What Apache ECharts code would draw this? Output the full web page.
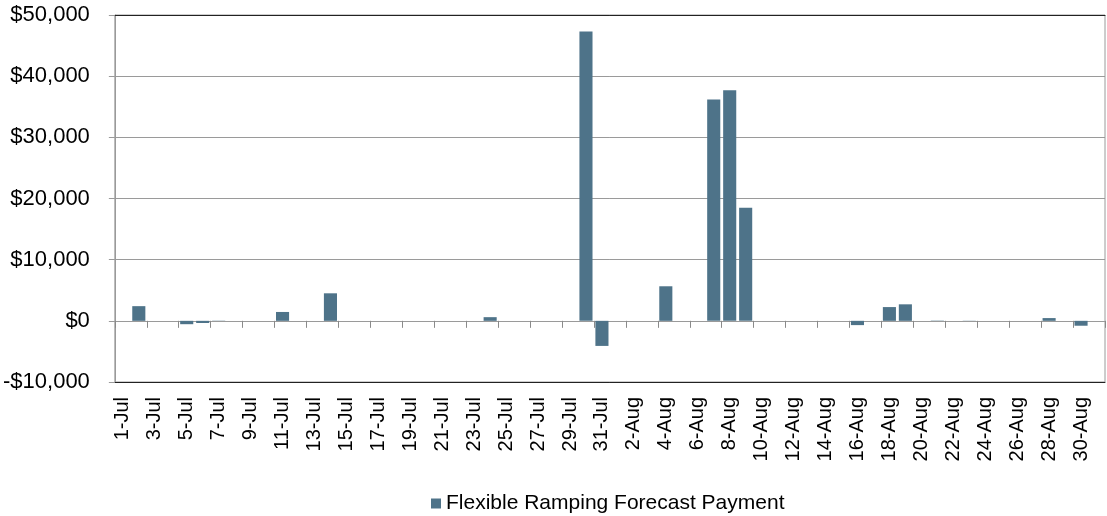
<!DOCTYPE html>
<html>
<head>
<meta charset="utf-8">
<script src="https://cdn.jsdelivr.net/npm/echarts@6/dist/echarts.min.js"></script>
<style>html,body{margin:0;padding:0;background:#fff}#c{width:1107px;height:516px}</style>
</head>
<body>
<div id="c"></div>
<script>
const categories = ["1-Jul","2-Jul","3-Jul","4-Jul","5-Jul","6-Jul","7-Jul","8-Jul","9-Jul","10-Jul","11-Jul","12-Jul","13-Jul","14-Jul","15-Jul","16-Jul","17-Jul","18-Jul","19-Jul","20-Jul","21-Jul","22-Jul","23-Jul","24-Jul","25-Jul","26-Jul","27-Jul","28-Jul","29-Jul","30-Jul","31-Jul","1-Aug","2-Aug","3-Aug","4-Aug","5-Aug","6-Aug","7-Aug","8-Aug","9-Aug","10-Aug","11-Aug","12-Aug","13-Aug","14-Aug","15-Aug","16-Aug","17-Aug","18-Aug","19-Aug","20-Aug","21-Aug","22-Aug","23-Aug","24-Aug","25-Aug","26-Aug","27-Aug","28-Aug","29-Aug","30-Aug","31-Aug"];
const seriesName = "Flexible Ramping Forecast Payment";
const payments = [0,2400,0,0,-550,-350,40,0,0,0,1450,0,0,4500,0,0,0,0,0,0,0,0,0,600,0,0,0,0,0,47300,-4100,0,0,0,5650,0,0,36200,37700,18500,0,0,0,0,0,0,-700,0,2250,2700,0,50,0,30,0,0,0,0,450,0,-800,0];
const yMin = -10000, yMax = 50000, yStep = 10000;

const chart = echarts.init(document.getElementById('c'));
const font = 'Liberation Sans, Arial, sans-serif';
const fmt = v => (v < 0 ? '-$' : '$') + Math.abs(v).toLocaleString('en-US');
chart.setOption({
  animation: false,
  grid: { left: 114, right: 2, top: 15, bottom: 134, show: true, borderColor: '#9a9a9a', borderWidth: 1 },
  legend: {
    top: 488, left: 426,
    data: [seriesName],
    icon: 'rect', itemWidth: 10, itemHeight: 10, itemGap: 8,
    textStyle: { fontFamily: font, fontSize: 21, color: '#000' }
  },
  xAxis: [
    {
      type: 'category', data: categories, boundaryGap: true, position: 'bottom',
      axisLine: { show: true, onZero: true, onZeroAxisIndex: 0, lineStyle: { color: '#9a9a9a', width: 1 } },
      axisTick: { show: true, interval: 1, length: 7, inside: false, lineStyle: { color: '#8a8a8a', width: 1 } },
      axisLabel: { show: false }, splitLine: { show: false }
    },
    {
      type: 'category', data: categories, position: 'bottom', boundaryGap: true,
      axisLine: { show: true, onZero: false, lineStyle: { color: '#222', width: 1 } },
      axisTick: { show: false },
      axisLabel: { interval: 1, rotate: 90, margin: 15, fontFamily: font, fontSize: 20, color: '#000' }
    },
    {
      type: 'category', data: categories, position: 'top', boundaryGap: true,
      axisLine: { show: true, onZero: false, lineStyle: { color: '#222', width: 1 } },
      axisTick: { show: false }, axisLabel: { show: false }
    }
  ],
  yAxis: {
    type: 'value', min: yMin, max: yMax, interval: yStep,
    axisLine: { show: true, lineStyle: { color: '#9a9a9a' } },
    axisTick: { show: true, length: 6, lineStyle: { color: '#9a9a9a' } },
    splitLine: { lineStyle: { color: '#9a9a9a', width: 1 } },
    axisLabel: { formatter: fmt, margin: 25, fontFamily: font, fontSize: 22, color: '#000' }
  },
  series: [{
    name: seriesName, type: 'bar', xAxisIndex: 0, data: payments,
    barCategoryGap: '18%',
    itemStyle: { color: '#4e7389' }
  }]
});
</script>
</body>
</html>
